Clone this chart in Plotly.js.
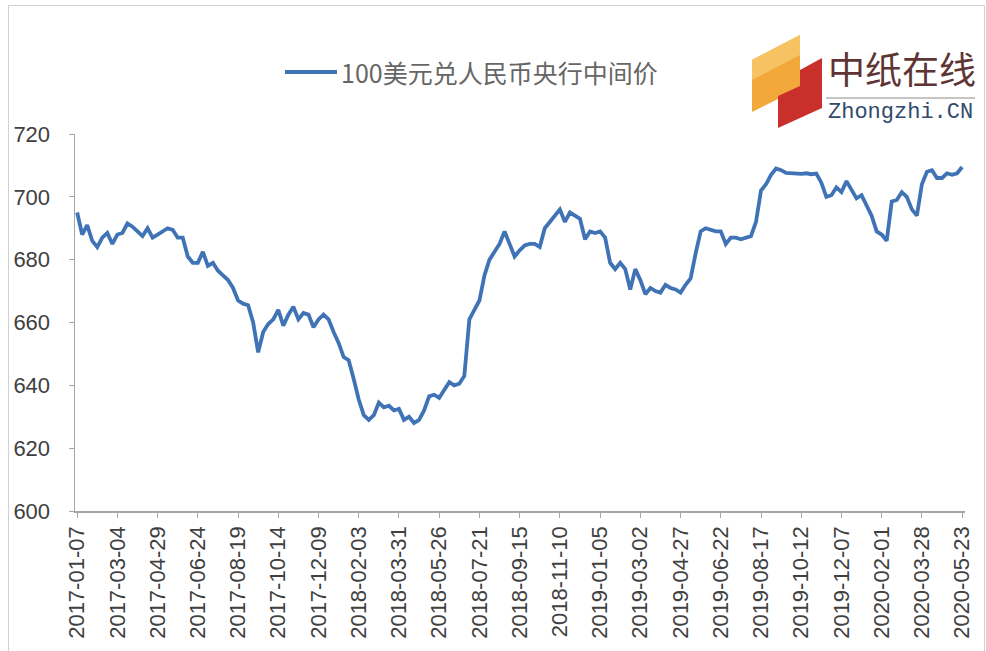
<!DOCTYPE html>
<html>
<head>
<meta charset="utf-8">
<script src="https://cdn.plot.ly/plotly-3.0.1.min.js"></script>
<style>
  html, body { margin: 0; padding: 0; background: #ffffff; overflow: hidden; }
  #chart { position: absolute; left: 0; top: 0; width: 986px; height: 651px; }
  #frame { position: absolute; left: 8px; top: 5px; width: 975px; height: 700px; border: 1px solid #d0d0d0; pointer-events: none; }
</style>
</head>
<body>
<div id="chart"></div>
<div id="frame"></div>
<script>
// Series name
const seriesName = '100美元兑人民币央行中间价';

// Weekly observations (first week: 2017-01-07, one value per week)
const startDate = '2017-01-07';
const values2017 = [695, 688, 691, 686, 684, 687, 688.5, 685, 688, 688.5, 691.5, 690.5, 689, 687.5, 690, 687, 688, 689, 690, 689.5,
  687, 687, 681, 679, 679, 682.5, 678, 679, 676.5, 675, 673.5, 671, 667, 666, 665.5, 660, 650.5, 657, 659.5, 661,
  664, 659, 662.5, 665, 661, 663, 662.5, 658.5, 661, 662.5, 661, 657];
const values2018 = [653.5, 649, 648, 642, 635.5, 630.5, 629, 630.5, 634.5, 633, 633.5, 632, 632.5, 629, 630, 628, 629, 632, 636.5, 637,
  636, 638.5, 641, 640, 640.5, 643, 661, 664, 667, 675, 680, 682.5, 685, 689, 685, 681, 683, 684.5, 685, 685,
  684, 690, 692, 694, 696, 692, 695, 694, 693, 686.5, 689, 688.5];
const values2019 = [689, 687, 679, 677, 679, 677, 670.5, 677, 673.5, 669, 671, 670, 669.5, 672, 671, 670.5, 669.5, 672, 674, 682,
  689, 690, 689.5, 689, 689, 685, 687, 687, 686.5, 687, 687.5, 692, 702, 704, 707, 709, 708.5, 707.6, 707.4, 707.5,
  707.3, 707.5, 707.2, 707.4, 704.5, 700, 700.5, 703, 701.5, 705, 702.5, 699.5];
const values2020 = [700.5, 697, 694, 689, 688, 686, 698.5, 699, 701.5, 700, 696, 694, 704, 708, 708.5, 706, 706, 707.5, 707, 707.5, 709.5];

// Axis tick labels
const xTickLabels = ['2017-01-07', '2017-03-04', '2017-04-29', '2017-06-24', '2017-08-19', '2017-10-14', '2017-12-09',
  '2018-02-03', '2018-03-31', '2018-05-26', '2018-07-21', '2018-09-15', '2018-11-10', '2019-01-05', '2019-03-02',
  '2019-04-27', '2019-06-22', '2019-08-17', '2019-10-12', '2019-12-07', '2020-02-01', '2020-03-28', '2020-05-23'];
const yTickValues = [600, 620, 640, 660, 680, 700, 720];

// Build the weekly calendar for the values
const allValues = values2017.concat(values2018, values2019, values2020);
const dates = [];
(function () {
  const d0 = new Date(startDate + 'T00:00:00Z');
  for (let i = 0; i < allValues.length; i++) {
    const d = new Date(d0.getTime() + i * 7 * 86400000);
    dates.push(d.toISOString().slice(0, 10));
  }
})();

const lineColor = '#3f73b5';

// Plot-area geometry helpers (for decoration placed in paper coords)
const W = 986, H = 651, mL = 75, mR = 21, mT = 134, mB = 140;
const pw = W - mL - mR, ph = H - mT - mB;
const px = x => (x - mL) / pw;
const py = y => (H - mB - y) / ph;
function poly(pts) {
  return 'M' + pts.map(p => px(p[0]) + ',' + py(p[1])).join(' L') + ' Z';
}

const trace = {
  type: 'scatter',
  mode: 'lines',
  x: dates,
  y: allValues,
  name: seriesName,
  line: { color: lineColor, width: 3.8 },
  showlegend: false,
  hoverinfo: 'x+y'
};

const layout = {
  width: W,
  height: H,
  margin: { l: mL, r: mR, t: mT, b: mB, pad: 0 },
  paper_bgcolor: '#ffffff',
  plot_bgcolor: '#ffffff',
  font: { family: '"Liberation Sans", Arial, sans-serif', color: '#404040' },
  xaxis: {
    type: 'date',
    range: ['2017-01-04', '2020-05-27'],
    tickmode: 'array',
    tickvals: xTickLabels,
    ticktext: xTickLabels,
    tickangle: -90,
    tickfont: { size: 22, color: '#404040' },
    ticks: 'outside',
    ticklen: 5,
    tickcolor: '#a6a6a6',
    showline: true,
    linecolor: '#a6a6a6',
    linewidth: 1.5,
    showgrid: false,
    zeroline: false
  },
  yaxis: {
    range: [600, 720],
    tickmode: 'array',
    tickvals: yTickValues,
    ticktext: yTickValues.map(String),
    tickfont: { size: 22, color: '#404040' },
    ticks: 'outside',
    ticklen: 5,
    tickcolor: '#a6a6a6',
    ticklabelstandoff: 14,
    showline: true,
    linecolor: '#a6a6a6',
    linewidth: 1.5,
    showgrid: false,
    zeroline: false
  },
  shapes: [
    // legend sample line
    { type: 'line', xref: 'paper', yref: 'paper', x0: px(285), x1: px(337), y0: py(72), y1: py(72),
      line: { color: lineColor, width: 4 } },
    // logo: orange parallelogram
    { type: 'path', xref: 'paper', yref: 'paper', path: poly([[752, 60], [800, 35], [800, 88], [752, 112]]),
      fillcolor: '#f3a83c', line: { width: 0 } },
    { type: 'path', xref: 'paper', yref: 'paper', path: poly([[752, 60], [800, 35], [800, 55], [752, 80]]),
      fillcolor: '#f7c261', line: { width: 0 } },
    // logo: red shape
    { type: 'path', xref: 'paper', yref: 'paper', path: poly([[800, 70], [822, 58], [822, 108], [778, 128], [778, 96], [800, 86]]),
      fillcolor: '#c9302c', line: { width: 0 } },
    // logo underline
    { type: 'line', xref: 'paper', yref: 'paper', x0: px(826), x1: px(975), y0: py(98), y1: py(98),
      line: { color: '#8a8a8a', width: 1 } }
  ],
  annotations: [
    { xref: 'paper', yref: 'paper', x: px(339), y: py(72), xanchor: 'left', yanchor: 'middle',
      text: seriesName, showarrow: false,
      font: { family: '"Noto Sans CJK SC", sans-serif', size: 25, color: '#666666' } },
    { xref: 'paper', yref: 'paper', x: px(826), y: py(68), xanchor: 'left', yanchor: 'middle',
      text: '中纸在线', showarrow: false,
      font: { family: '"Noto Sans CJK SC", sans-serif', size: 37, color: '#5e3434' } },
    { xref: 'paper', yref: 'paper', x: px(826), y: py(112), xanchor: 'left', yanchor: 'middle',
      text: 'Zhongzhi.CN', showarrow: false,
      font: { family: '"Liberation Mono", monospace', size: 22, color: '#2f4a6d' } }
  ]
};

Plotly.newPlot('chart', [trace], layout, { displayModeBar: false, staticPlot: true });
</script>
</body>
</html>
